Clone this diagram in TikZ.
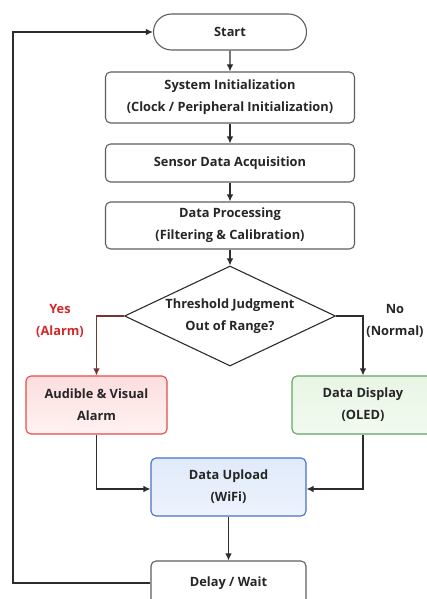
\documentclass[tikz,border=0pt]{standalone}
\usepackage{fontspec}
\setmainfont{Open Sans}
\usetikzlibrary{arrows.meta,shapes.geometric,shapes.misc}
\definecolor{lineC}{RGB}{45,45,45}
\definecolor{boxC}{RGB}{95,95,95}
\definecolor{redB}{RGB}{228,75,75}
\definecolor{redT}{RGB}{252,222,222}
\definecolor{redBo}{RGB}{255,242,242}
\definecolor{greenB}{RGB}{100,165,100}
\definecolor{greenT}{RGB}{232,245,228}
\definecolor{greenBo}{RGB}{242,250,240}
\definecolor{blueB}{RGB}{70,115,200}
\definecolor{blueT}{RGB}{224,234,250}
\definecolor{blueBo}{RGB}{238,243,252}
\definecolor{yesC}{RGB}{212,40,40}
\definecolor{yesLine}{RGB}{120,50,50}
\tikzset{
  every node/.style={font=\fontsize{12.8}{22}\selectfont\bfseries, text=black!85},
  box/.style={draw=boxC, line width=1.1pt, rounded corners=5pt, align=center, inner sep=0pt, fill=white},
  stadium/.style={draw=boxC, line width=1.1pt, rounded rectangle, align=center, inner sep=0pt, fill=white},
  dec/.style={draw=lineC, line width=1.1pt, diamond, aspect=2.11, inner sep=0pt, align=center, fill=white},
  conn/.style={draw=lineC, line width=1.1pt, -{Latex[length=7pt,width=6.5pt]}},
}
\begin{document}
\begin{tikzpicture}[x=1pt,y=-1pt]
\useasboundingbox[fill=white] (0,0) rectangle (426,599);
\node[stadium, minimum width=153pt, minimum height=36pt] (start) at (230,32) {Start};
\node[box, minimum width=249pt, minimum height=51pt] (init) at (230,97.5) {System Initialization\\(Clock / Peripheral Initialization)};
\node[box, minimum width=249pt, minimum height=38pt] (sensor) at (230,163) {Sensor Data Acquisition};
\node[box, minimum width=249pt, minimum height=47pt] (proc) at (230,225.5) {Data Processing\\(Filtering \& Calibration)};
\node[dec, minimum width=211pt, minimum height=100pt] (judge) at (230,316) {Threshold Judgment\\Out of Range?};
\node[box, draw=redB, top color=redT, bottom color=redBo, minimum width=141pt, minimum height=58pt] (alarm) at (96.5,405) {Audible \& Visual\\Alarm};
\node[box, draw=greenB, top color=greenT, bottom color=greenBo, minimum width=142pt, minimum height=58pt] (display) at (363,405) {Data Display\\(OLED)};
\node[box, draw=blueB, top color=blueT, bottom color=blueBo, minimum width=155pt, minimum height=58pt] (upload) at (228.5,487) {Data Upload\\(WiFi)};
\node[box, minimum width=155pt, minimum height=44pt] (delay) at (228.5,583) {Delay / Wait};
\node[align=center, text=yesC] (yes) at (60,321) {Yes\\(Alarm)};
\node[align=center] (no) at (395,321) {No\\(Normal)};
\coordinate (loop) at (13,583);
\draw[conn] (start) -- (init);
\draw[conn] (init) -- (sensor);
\draw[conn] (sensor) -- (proc);
\draw[conn] (proc) -- (judge);
\draw[conn, draw=yesLine] (judge.west) -| (alarm.north);
\draw[conn] (judge.east) -| (display.north);
\draw[conn] (alarm.south) |- ([yshift=-2pt]upload.west);
\draw[conn] (display.south) |- ([yshift=-2pt]upload.east);
\draw[conn] (upload) -- (delay);
\draw[conn] (delay.west) -- (loop) |- (start.west);
\end{tikzpicture}
\end{document}
